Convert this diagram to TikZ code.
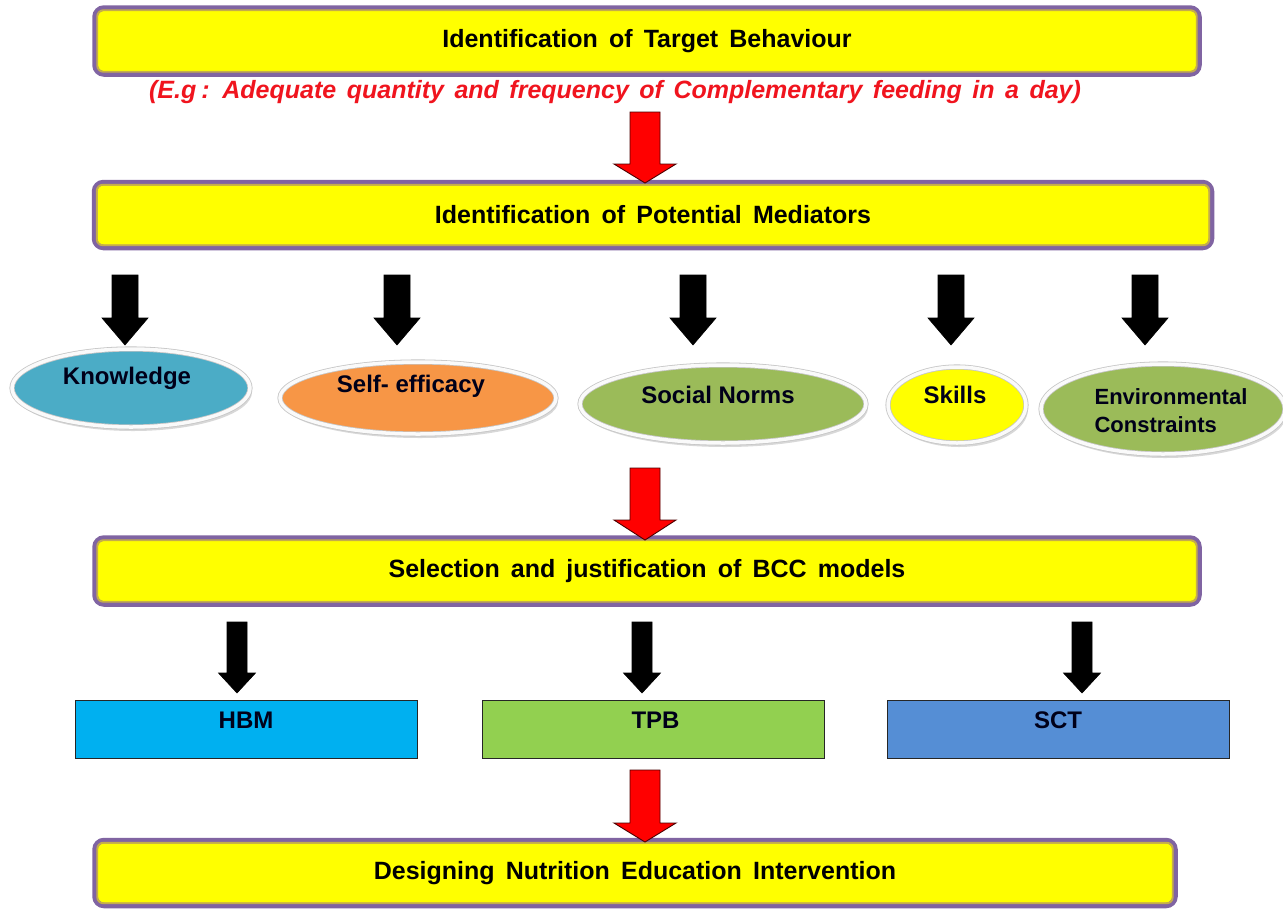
\documentclass[tikz,border=0pt]{standalone}
\usepackage{fontspec}
\setmainfont{Liberation Sans}
\usetikzlibrary{shapes.geometric,calc,shadows}
\definecolor{boxpurple}{HTML}{8064A2}
\definecolor{boxgold}{HTML}{C4AC4C}
\definecolor{knowc}{HTML}{4BACC6}
\definecolor{selfc}{HTML}{F79646}
\definecolor{greenc}{HTML}{9BBB59}
\definecolor{hbmc}{HTML}{00B0F0}
\definecolor{tpbc}{HTML}{92D050}
\definecolor{sctc}{HTML}{558ED5}
\definecolor{redtxt}{HTML}{F0141E}
\definecolor{pureyellow}{HTML}{FFFF00}
\newcommand\blockarr[6]{%
  \path[#1] let \p1=(#2),\p2=(#3) in
    (\x1-#4pt,\y1) -- (\x1+#4pt,\y1) -- (\x1+#4pt,\y2+#6pt) -- (\x1+#5pt,\y2+#6pt)
    -- (\x1,\y2) -- (\x1-#5pt,\y2+#6pt) -- (\x1-#4pt,\y2+#6pt) -- cycle;}
\tikzset{
  stagebox/.style={draw=boxpurple, line width=5.5pt, fill=pureyellow, rounded corners=9pt,
    font=\fontsize{25}{29}\selectfont\bfseries, inner sep=0pt},
  goldline/.style={draw=boxgold, line width=1.8pt, rounded corners=6pt},
  medell/.style={ellipse, draw=gray!45, line width=0.8pt, double=white!96!gray,
    double distance=3.5pt, inner sep=0pt,
    drop shadow={shadow xshift=2pt, shadow yshift=-4pt, fill=gray!50, opacity=.6}},
  lbl/.style={font=\fontsize{24}{28}\selectfont\bfseries, text=black!90!blue, inner sep=0pt},
  modelbox/.style={draw=black!85, line width=0.9pt, minimum width=342pt, minimum height=58pt, inner sep=0pt},
  redarr/.style={fill=red, draw=black!70!red, line width=0.9pt},
  blackarr/.style={fill=black, draw=black, line width=0.6pt}
}
\begin{document}
\begin{tikzpicture}[x=1pt,y=-1pt]
\useasboundingbox[fill=white] (0,0) rectangle (1283,911);

% stage boxes
\node[stagebox, minimum width=1104pt, minimum height=66pt] (b1) at (647,41) {Identification\, of\, Target\, Behaviour};
\node[stagebox, minimum width=1117pt, minimum height=65pt] (b2) at (653,215) {Identification\, of\, Potential\, Mediators};
\node[stagebox, minimum width=1104pt, minimum height=66pt] (b3) at (647,571) {Selection\, and\, justification\, of\, BCC\, models};
\node[stagebox, minimum width=1080pt, minimum height=65pt] (b4) at (635,873) {Designing\, Nutrition\, Education\, Intervention};
\foreach \b in {b1,b2,b3,b4}{
  \draw[goldline] ([shift={(5,5)}]\b.north west) rectangle ([shift={(-5,-5)}]\b.south east);
}

% example text
\node[font=\fontsize{25}{29}\selectfont\bfseries\itshape, text=redtxt, inner sep=0pt] (eg) at (615,92)
  {\spaceskip=10.5pt(E.g\kern5pt: Adequate quantity and frequency of Complementary feeding in a day)};

% mediators
\node[medell, fill=knowc, minimum width=238pt, minimum height=78pt] (kn) at (131,388) {};
\node[medell, fill=selfc, minimum width=276pt, minimum height=72pt] (se) at (418,398) {};
\node[medell, fill=greenc, minimum width=286pt, minimum height=78pt] (sn) at (723,404) {};
\node[medell, fill=pureyellow, minimum width=138pt, minimum height=76pt] (sk) at (957,405) {};
\node[medell, fill=greenc, minimum width=244pt, minimum height=90pt] (ec) at (1163,409) {};
\node[lbl] (knt) at ([shift={(-4,-10)}]kn.center) {Knowledge};
\node[lbl] (set) at ([shift={(-7,-12)}]se.center) {Self- efficacy};
\node[lbl] (snt) at ([shift={(-5,-9)}]sn.center) {Social Norms};
\node[lbl] (skt) at ([shift={(-2,-10)}]sk.center) {Skills};
\node[lbl, font=\fontsize{22}{28}\selectfont\bfseries, align=left] (ect) at ([shift={(8,2)}]ec.center) {Environmental\\Constraints};

% models
\node[modelbox, fill=hbmc] (hbm) at (246,729) {};
\node[modelbox, fill=tpbc] (tpb) at (653.5,729) {};
\node[modelbox, fill=sctc] (sct) at (1058,729) {};
\node[lbl] at ([shift={(0,-9)}]hbm.center) {HBM};
\node[lbl] at ([shift={(2,-9)}]tpb.center) {TPB};
\node[lbl] at ([shift={(0,-9)}]sct.center) {SCT};

% arrow anchors
\coordinate (r1a) at (645,112); \coordinate (r1b) at (645,183);
\coordinate (r2a) at (645,468); \coordinate (r2b) at (645,540);
\coordinate (r3a) at (645,770); \coordinate (r3b) at (645,842);
\blockarr{redarr}{r1a}{r1b}{15}{31}{19}
\blockarr{redarr}{r2a}{r2b}{15}{31}{20}
\blockarr{redarr}{r3a}{r3b}{15}{31}{19}

\foreach \x [count=\i] in {125,397,693,951,1145}{
  \coordinate (ma\i) at (\x,275); \coordinate (mb\i) at (\x,345);
  \blockarr{blackarr}{ma\i}{mb\i}{13}{23}{27}
}
\foreach \x [count=\i] in {237,642,1082}{
  \coordinate (ka\i) at (\x,622); \coordinate (kb\i) at (\x,693);
  \blockarr{blackarr}{ka\i}{kb\i}{10}{18.5}{20}
}
\end{tikzpicture}
\end{document}
